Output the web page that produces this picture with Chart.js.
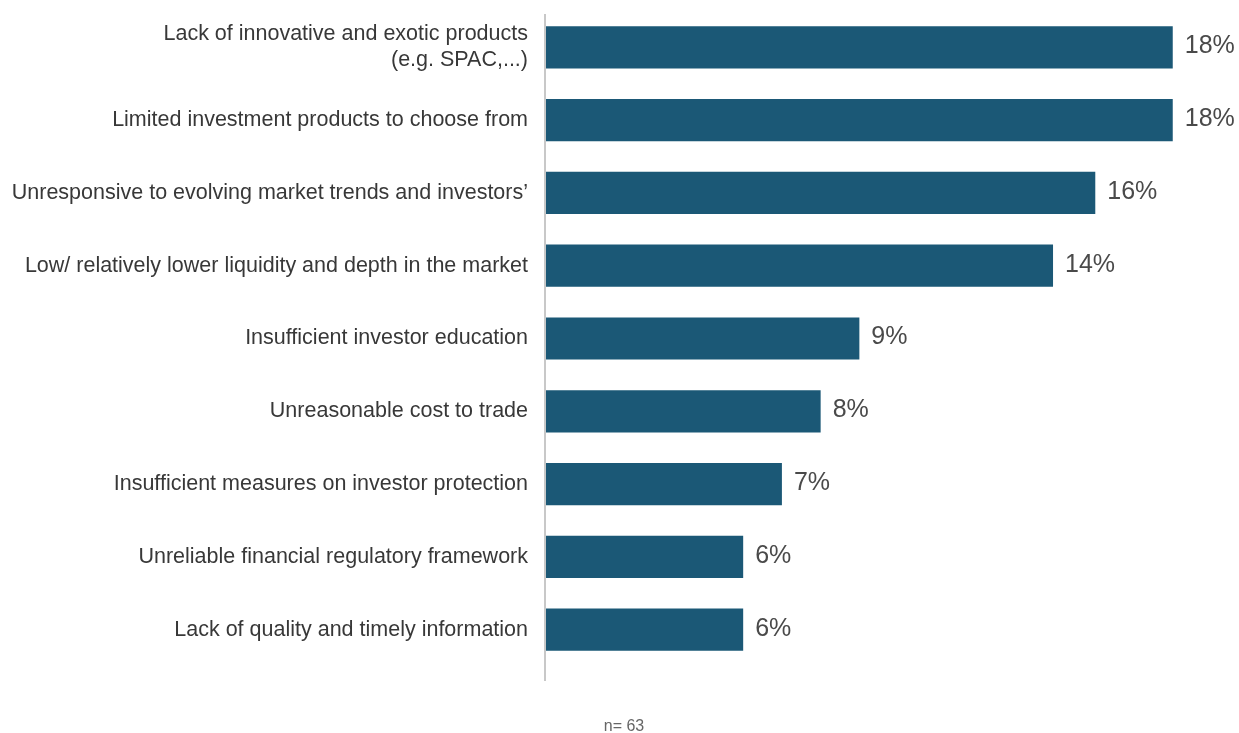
<!DOCTYPE html>
<html>
<head>
<meta charset="utf-8">
<script src="https://cdn.jsdelivr.net/npm/chart.js@4"></script>
<style>
  html, body { margin: 0; padding: 0; background: #fff; }
  #wrap { width: 1239px; height: 733px; position: relative; }
</style>
</head>
<body>
<div id="wrap"><canvas id="grafico" width="1239" height="733"></canvas></div>
<script>
// Motivos (categorias) e percentuais de respostas
const categorias = [
  ["Lack of innovative and exotic products", "(e.g. SPAC,...)"],
  "Limited investment products to choose from",
  "Unresponsive to evolving market trends and investors’",
  "Low/ relatively lower liquidity and depth in the market",
  "Insufficient investor education",
  "Unreasonable cost to trade",
  "Insufficient measures on investor protection",
  "Unreliable financial regulatory framework",
  "Lack of quality and timely information"
];
const percentuais = [17.8, 17.8, 15.6, 14.4, 8.9, 7.8, 6.7, 5.6, 5.6];
const nota = "n= 63";

const corBarra = '#1b5876';

// Rótulos de valor à direita de cada barra
const rotulosValor = {
  id: 'rotulosValor',
  afterDatasetsDraw(chart) {
    const c = chart.ctx;
    const meta = chart.getDatasetMeta(0);
    c.save();
    c.font = '300 25px "Liberation Sans", Arial, sans-serif';
    c.fillStyle = '#4a4a4a';
    c.textAlign = 'left';
    c.textBaseline = 'middle';
    meta.data.forEach((bar, i) => {
      c.fillText(Math.round(percentuais[i]) + '%', bar.x + 12, bar.y - 1);
    });
    c.restore();
  }
};

// Linha vertical do eixo e nota de amostra
const eixoENota = {
  id: 'eixoENota',
  beforeDatasetsDraw(chart) {
    const c = chart.ctx;
    const a = chart.chartArea;
    c.save();
    c.strokeStyle = '#c8c8c8';
    c.lineWidth = 2;
    c.beginPath();
    c.moveTo(a.left - 1, a.top + 3);
    c.lineTo(a.left - 1, a.bottom + 15);
    c.stroke();
    c.font = '16px "Liberation Sans", Arial, sans-serif';
    c.fillStyle = '#666';
    c.textAlign = 'center';
    c.textBaseline = 'middle';
    c.fillText(nota, 624, 727);
    c.restore();
  }
};

new Chart(document.getElementById('grafico').getContext('2d'), {
  type: 'bar',
  data: {
    labels: categorias,
    datasets: [{
      data: percentuais,
      backgroundColor: corBarra,
      borderWidth: 0,
      categoryPercentage: 1,
      barPercentage: 0.58
    }]
  },
  options: {
    indexAxis: 'y',
    responsive: false,
    animation: false,
    layout: { padding: { top: 11, right: 24, bottom: 67, left: 0 } },
    plugins: {
      legend: { display: false },
      tooltip: { enabled: false }
    },
    scales: {
      x: {
        display: false,
        min: 0,
        max: 19
      },
      y: {
        grid: { display: false, drawBorder: false },
        border: { display: false },
        ticks: {
          color: '#383838',
          padding: 10,
          font: { family: '"Liberation Sans", Arial, sans-serif', size: 21.5, lineHeight: 1.22 }
        },
        afterFit(scale) {
          scale.width = 546;
          scale.paddingTop = 0;
          scale.paddingBottom = 0;
        }
      }
    }
  },
  plugins: [rotulosValor, eixoENota]
});
</script>
</body>
</html>
